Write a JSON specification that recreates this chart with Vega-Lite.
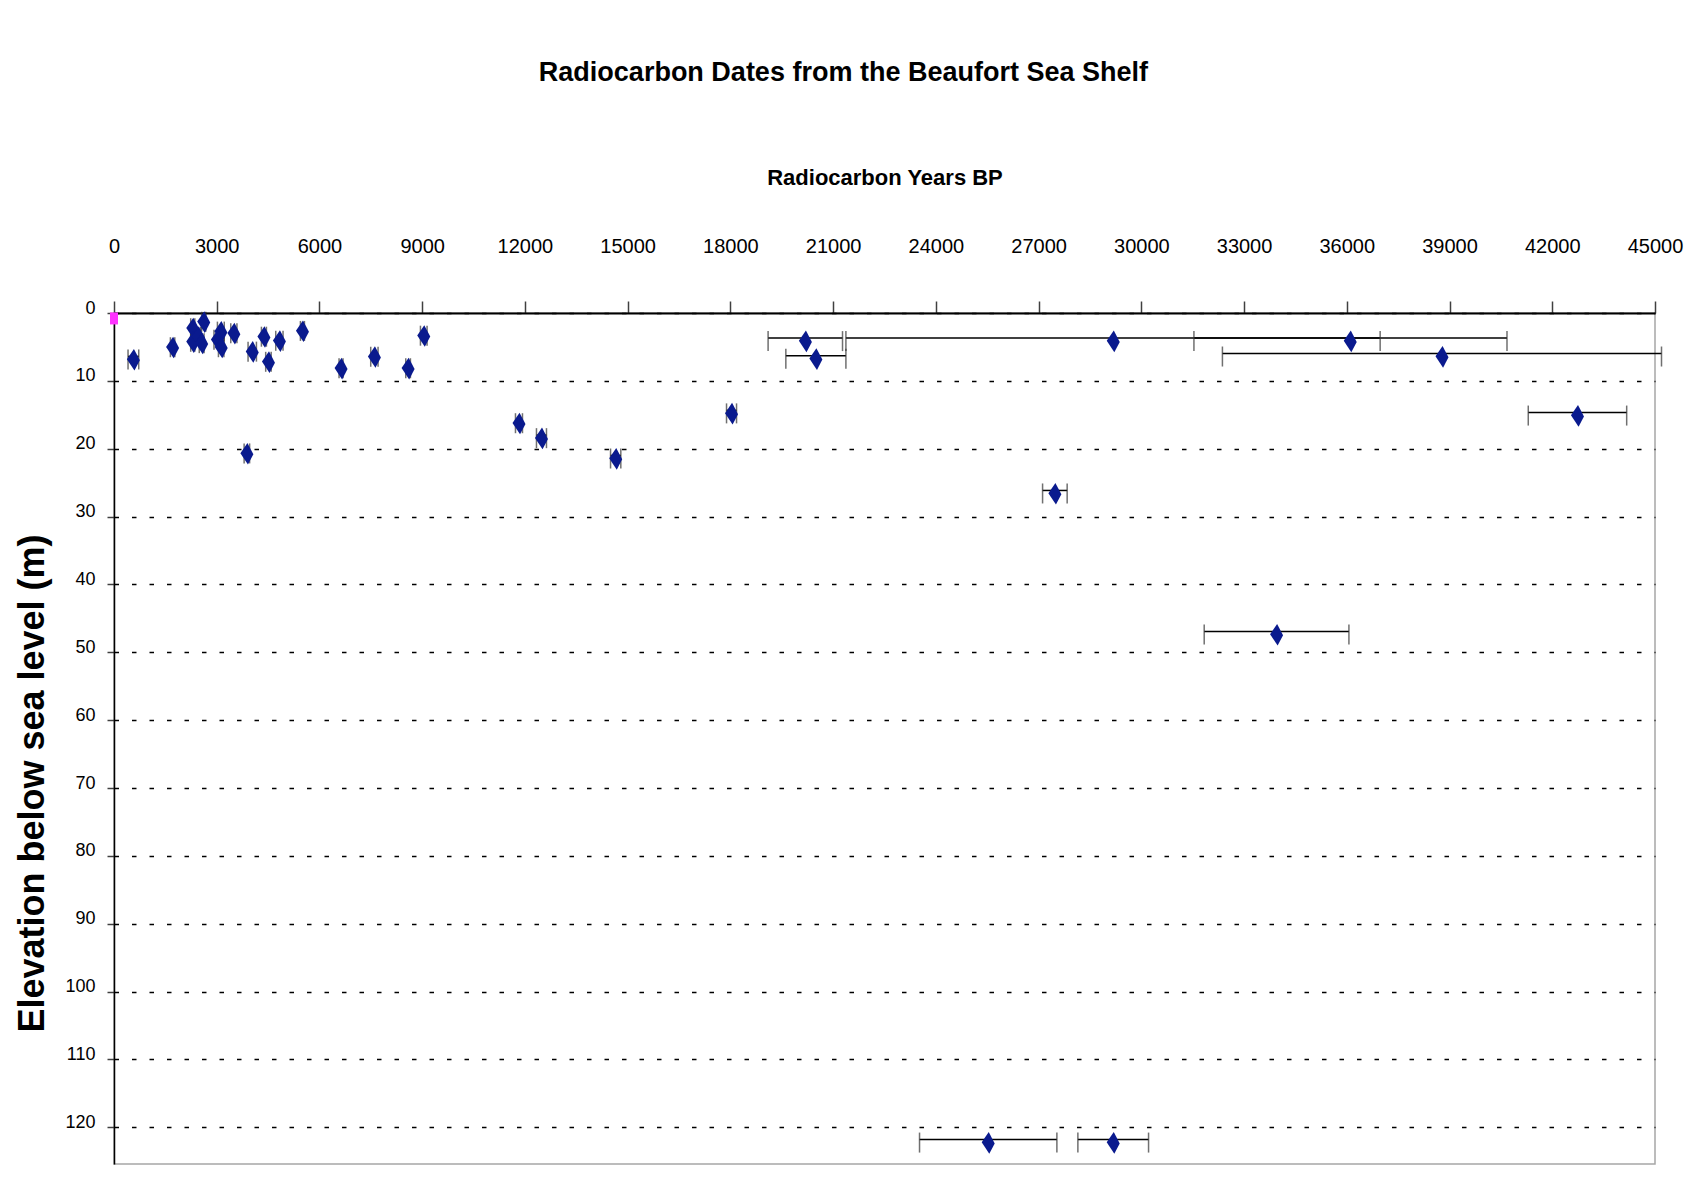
{
  "$schema": "https://vega.github.io/schema/vega-lite/v6.json",
  "autosize": {"type": "none"},
  "width": 1541,
  "height": 851,
  "padding": {"left": 114, "top": 313, "right": 52, "bottom": 22},
  "background": "white",
  "title": {
    "text": "Radiocarbon Dates from the Beaufort Sea Shelf",
    "font": "Liberation Sans, Arial, sans-serif",
    "fontSize": 27,
    "fontWeight": "bold",
    "color": "black",
    "anchor": "middle",
    "frame": "bounds",
    "offset": 79,
    "dx": -5
  },
  "config": {
    "view": {"stroke": "#a6a6a6", "strokeWidth": 1.5},
    "axis": {"domainColor": "black", "tickColor": "#404040", "labelColor": "black", "titleColor": "black"}
  },
  "datasets": {
    "dates": [
      {"age": 566, "depth": 6.4, "lo": 410, "hi": 722},
      {"age": 1711, "depth": 4.6, "lo": 1647, "hi": 1775},
      {"age": 2300, "depth": 1.8, "lo": 2240, "hi": 2360},
      {"age": 2620, "depth": 0.85, "lo": 2560, "hi": 2680},
      {"age": 2300, "depth": 3.8, "lo": 2240, "hi": 2360},
      {"age": 2460, "depth": 3.05, "lo": 2390, "hi": 2530},
      {"age": 2560, "depth": 4.0, "lo": 2490, "hi": 2630},
      {"age": 3120, "depth": 2.3, "lo": 3020, "hi": 3220},
      {"age": 3020, "depth": 3.5, "lo": 2920, "hi": 3120},
      {"age": 3130, "depth": 4.6, "lo": 3050, "hi": 3210},
      {"age": 3500, "depth": 2.55, "lo": 3410, "hi": 3590},
      {"age": 4037, "depth": 5.25, "lo": 3915, "hi": 4159},
      {"age": 4378, "depth": 3.05, "lo": 4305, "hi": 4451},
      {"age": 4510, "depth": 6.75, "lo": 4430, "hi": 4590},
      {"age": 4830, "depth": 3.65, "lo": 4723, "hi": 4936},
      {"age": 5503, "depth": 2.2, "lo": 5444, "hi": 5561},
      {"age": 6630, "depth": 7.7, "lo": 6572, "hi": 6688},
      {"age": 7604, "depth": 6.0, "lo": 7497, "hi": 7711},
      {"age": 8588, "depth": 7.7, "lo": 8520, "hi": 8656},
      {"age": 9045, "depth": 2.9, "lo": 8949, "hi": 9142},
      {"age": 3880, "depth": 20.25, "lo": 3800, "hi": 3960},
      {"age": 11826, "depth": 15.8, "lo": 11724, "hi": 11928},
      {"age": 12483, "depth": 18.0, "lo": 12337, "hi": 12629},
      {"age": 14650, "depth": 21.0, "lo": 14500, "hi": 14800},
      {"age": 18033, "depth": 14.35, "lo": 17887, "hi": 18179},
      {"age": 20190, "depth": 3.7, "lo": 19101, "hi": 21274},
      {"age": 20496, "depth": 6.3, "lo": 19619, "hi": 21373},
      {"age": 29180, "depth": 3.7, "lo": 21373, "hi": 36974},
      {"age": 36100, "depth": 3.7, "lo": 31536, "hi": 40678},
      {"age": 38780, "depth": 5.97, "lo": 32368, "hi": 45190},
      {"age": 42736, "depth": 14.67, "lo": 41299, "hi": 44173},
      {"age": 27475, "depth": 26.15, "lo": 27116, "hi": 27834},
      {"age": 33949, "depth": 46.93, "lo": 31836, "hi": 36062},
      {"age": 25528, "depth": 121.8, "lo": 23523, "hi": 27534},
      {"age": 29179, "depth": 121.8, "lo": 28147, "hi": 30211}
    ],
    "origin": [
      {"age": 0, "depth": 0.8}
    ]
  },
  "encoding": {
    "y": {
      "field": "depth",
      "type": "quantitative",
      "title": "Elevation below sea level (m)",
      "scale": {"domain": [0, 125.4], "reverse": true, "nice": false, "zero": false},
      "axis": {
        "values": [0, 10, 20, 30, 40, 50, 60, 70, 80, 90, 100, 110, 120],
        "labelFont": "Liberation Sans, Arial, sans-serif",
        "labelFontSize": 18,
        "labelPadding": 12,
        "labelOffset": -5,
        "labelFlush": false,
        "labelOverlap": false,
        "tickSize": 7,
        "tickWidth": 1.5,
        "domainWidth": 1.5,
        "grid": true,
        "gridDash": [4.5, 13],
        "gridColor": "black",
        "gridWidth": 1.5,
        "titleFont": "Liberation Sans, Arial, sans-serif",
        "titleFontSize": 36,
        "titleFontWeight": "bold",
        "titleX": -82,
        "titleY": 470,
        "titleAlign": "center",
        "titleBaseline": "middle",
        "titleAngle": 270
      }
    }
  },
  "layer": [
    {
      "data": {"name": "dates"},
      "mark": {"type": "rule", "color": "black", "strokeWidth": 1.5},
      "encoding": {
        "x": {
          "field": "lo",
          "type": "quantitative",
          "title": "Radiocarbon Years BP",
          "scale": {"domain": [0, 45000], "nice": false, "zero": false},
          "axis": {
            "orient": "top",
            "values": [0, 3000, 6000, 9000, 12000, 15000, 18000, 21000, 24000, 27000, 30000, 33000, 36000, 39000, 42000, 45000],
            "format": "d",
            "labelFont": "Liberation Sans, Arial, sans-serif",
            "labelFontSize": 20,
            "labelPadding": 45,
            "labelFlush": false,
            "labelOverlap": false,
            "tickSize": 12,
            "tickWidth": 1.5,
            "domainWidth": 2,
            "grid": false,
            "titleFont": "Liberation Sans, Arial, sans-serif",
            "titleFontSize": 22,
            "titleFontWeight": "bold",
            "titlePadding": 47
          }
        },
        "x2": {"field": "hi"}
      }
    },
    {
      "data": {"name": "dates"},
      "mark": {"type": "tick", "orient": "vertical", "size": 20, "thickness": 1.5, "color": "#333333", "yOffset": 3},
      "encoding": {
        "x": {"field": "lo", "type": "quantitative", "title": "Radiocarbon Years BP"}
      }
    },
    {
      "data": {"name": "dates"},
      "mark": {"type": "tick", "orient": "vertical", "size": 20, "thickness": 1.5, "color": "#333333", "yOffset": 3},
      "encoding": {
        "x": {"field": "hi", "type": "quantitative", "title": "Radiocarbon Years BP"}
      }
    },
    {
      "data": {"name": "dates"},
      "mark": {"type": "point", "shape": "M0.05,-1L0.6,0.05L0.1,1L-0.6,-0.05Z", "size": 470, "filled": true, "color": "#0a1a8e", "opacity": 1, "yOffset": 3.3},
      "encoding": {
        "x": {"field": "age", "type": "quantitative", "title": "Radiocarbon Years BP"}
      }
    },
    {
      "data": {"name": "origin"},
      "mark": {"type": "point", "shape": "M-0.4,-0.6L0.4,-0.6L0.4,0.6L-0.4,0.6Z", "size": 400, "filled": true, "color": "#ff33ff", "opacity": 1},
      "encoding": {
        "x": {"field": "age", "type": "quantitative", "title": "Radiocarbon Years BP"}
      }
    }
  ]
}
